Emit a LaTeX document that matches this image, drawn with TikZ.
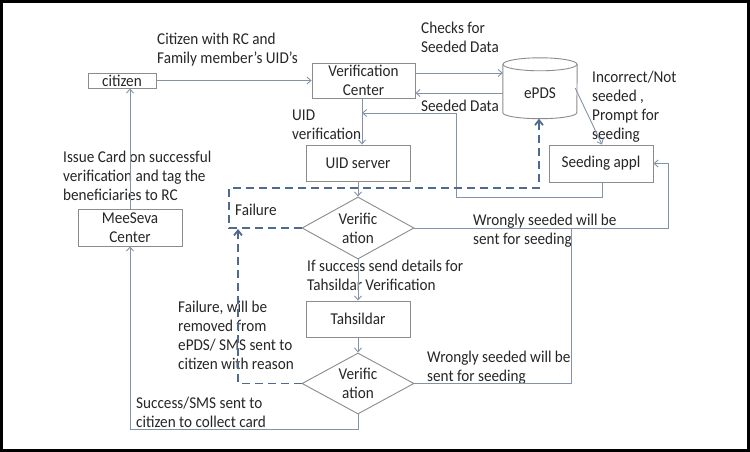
\documentclass[tikz,border=0pt]{standalone}
\usepackage{fontspec}
\setmainfont{Carlito}[FakeStretch=0.92]
\usetikzlibrary{shapes.geometric,arrows.meta,calc}
\definecolor{boxc}{HTML}{8C8C8C}
\definecolor{linec}{HTML}{8494A8}
\definecolor{dashc}{HTML}{50698F}
\definecolor{txtc}{HTML}{262626}
\begin{document}
\begin{tikzpicture}[x=1pt,y=-1pt,
  every node/.style={text=txtc,font=\fontsize{16.5}{19}\selectfont},
  box/.style={draw=boxc,line width=0.9pt,inner sep=0pt,align=center},
  dia/.style={draw=boxc,line width=0.9pt,diamond,inner sep=0pt},
  lbl/.style={anchor=north west,inner sep=0pt,align=left},
  arr/.style={draw=linec,line width=0.9pt,-{Straight Barb[length=4pt,width=7pt]}},
  ln/.style={draw=linec,line width=0.9pt},
  dsh/.style={draw=dashc,line width=1.8pt,dash pattern=on 8pt off 5pt},
  darr/.style={dsh,-{Straight Barb[length=5pt,width=8pt]}}]
\useasboundingbox (0,0) rectangle (750,452);
\fill[white] (0,0) rectangle (750,452);
\draw[black,line width=3pt] (1.5,1.5) rectangle (748.5,450.5);
% nodes
\node[box,minimum width=68pt,minimum height=15pt] (cit) at (122,80.5) {citizen};
\node[box,minimum width=103pt,minimum height=35pt] (vc) at (363.5,80.5) {Verification\\Center};
\node[box,minimum width=104pt,minimum height=36pt] (uid) at (358,163) {UID server};
\node[inner sep=0pt,minimum width=74pt,minimum height=61pt] (epds) at (540,88) {};
\draw[boxc,line width=0.9pt,fill=white]
  ($(epds.north west)+(0,7)$) -- ($(epds.south west)+(0,-6)$)
  arc[start angle=180,end angle=360,x radius=37pt,y radius=6pt]
  -- ($(epds.north east)+(0,7)$);
\draw[boxc,line width=0.9pt] ($(epds.north)+(0,7)$) ellipse[x radius=37pt,y radius=6.5pt];
\node at ($(epds.center)+(0,5)$) {ePDS};
\node[box,minimum width=104pt,minimum height=37pt] (seed) at (601,163.5) {Seeding appl};
\node[dia,minimum width=112pt,minimum height=62pt] (d1) at (358,228) {};
\node[align=center,inner sep=0pt] at (d1.center) {Verific\\ation};
\node[box,minimum width=104pt,minimum height=36pt] (tah) at (358,319) {Tahsildar};
\node[dia,minimum width=112pt,minimum height=61pt] (d2) at (358,383.5) {};
\node[align=center,inner sep=0pt] at (d2.center) {Verific\\ation};
\node[box,minimum width=104pt,minimum height=37pt] (mee) at (130,227.5) {MeeSeva\\Center};
% labels
\node[lbl] (l1) at (157,33) {Citizen with RC and\\Family member’s UID’s};
\node[lbl] (l2) at (421,22) {Checks for\\Seeded Data};
\node[lbl] (l3) at (421,100) {Seeded Data};
\node[lbl] (l4) at (592,71) {Incorrect/Not\\seeded ,\\Prompt for\\seeding};
\node[lbl] (l5) at (292,110) {UID\\verification};
\node[lbl] (l6) at (63,151) {Issue Card on successful\\verification and tag the\\beneficiaries to RC};
\node[lbl] (l7) at (235,204) {Failure};
\node[lbl] (l8) at (473,214) {Wrongly seeded will be\\sent for seeding};
\node[lbl] (l9) at (307,260) {If success send details for\\Tahsildar Verification};
\node[lbl] (l10) at (178,301) {Failure, will be\\removed from\\ePDS/ SMS sent to\\citizen with reason};
\node[lbl] (l11) at (427,351) {Wrongly seeded will be\\sent for seeding};
\node[lbl] (l12) at (136,397) {Success/SMS sent to\\citizen to collect card};
% coordinates
\coordinate (vcA) at ($(vc.east)+(0,-7.5)$);
\coordinate (vcB) at ($(vc.east)+(0,12.5)$);
\coordinate (vcS) at ($(vc.south)+(-1.5,0)$);
\coordinate (sdS) at ($(seed.south)+(1,0)$);
\coordinate (sdN) at ($(seed.north)+(1,0)$);
% connectors
\draw[arr] (cit.east) -- (vc.west);
\draw[arr] (vcA) -- (epds.west |- vcA);
\draw[arr] (epds.west |- vcB) -- (vcB);
\draw[arr] ($(epds.east)+(-2,0)$) -- (sdN);
\draw[arr] (vcS) -- (vcS |- uid.north);
\draw[arr] (sdS) -- (sdS |- 0,197) -- (456,197) -- (456,113) -- (vcS |- 0,113);
\draw[arr] (uid.south) -- (d1.north);
\draw[arr] (d1.east) -- (668,228) -- (668,163.5) -- (seed.east);
\draw[ln] (d2.east) -- (571,383.5) -- (571,228);
\draw[arr] (d1.south) -- (tah.north);
\draw[arr] (tah.south) -- (d2.north);
\draw[arr] (d2.south) -- (358,429) -- (130,429) -- (mee.south);
\draw[arr] (mee.north) -- (mee.north |- cit.south);
\draw[darr] (d1.west) -- (229,228) -- (229,188) -- (539,188) -- ($(epds.south)+(-1,0)$);
\draw[darr] (d2.west) -- (238,383.5) -- (238,229);
\end{tikzpicture}
\end{document}
